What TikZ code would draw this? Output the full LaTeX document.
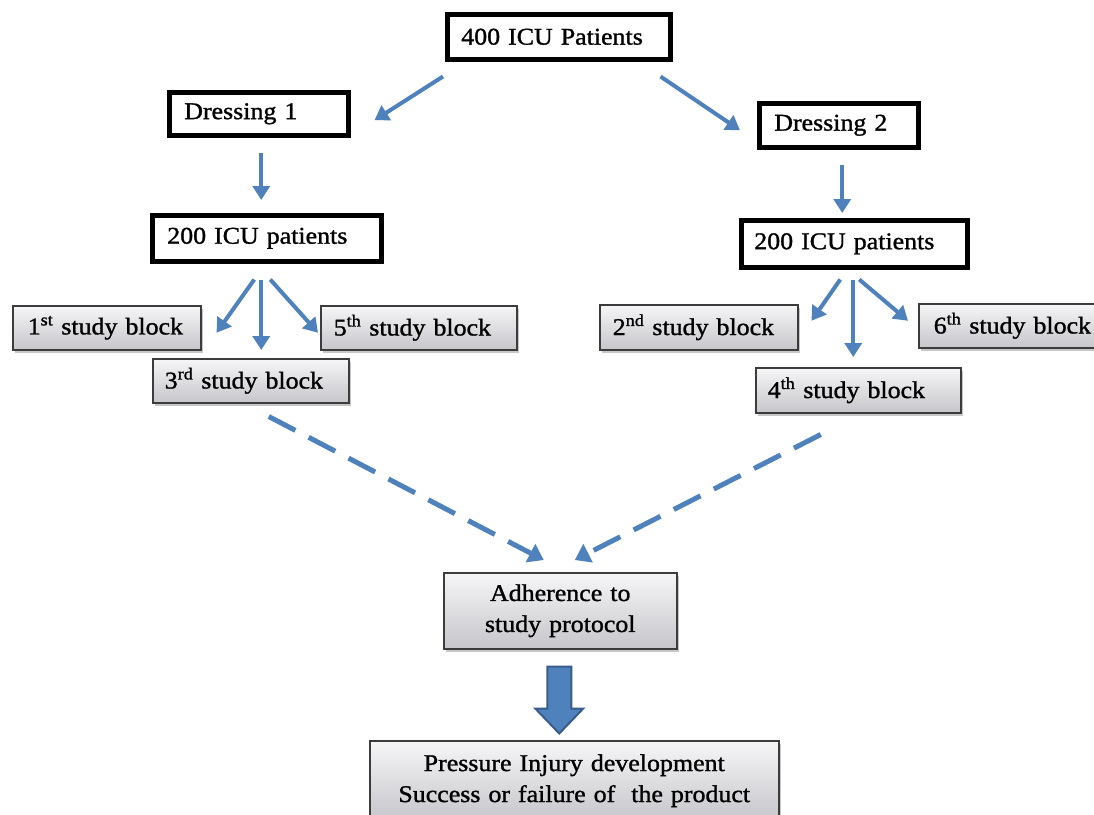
\documentclass[tikz,border=0pt]{standalone}
\usepackage{fontspec}
\setmainfont{Liberation Serif}[FakeStretch=1.08,FakeBold=1.2]
\usetikzlibrary{arrows.meta,shadows,calc}
\definecolor{arrblue}{RGB}{79,129,189}
\definecolor{arrdark}{RGB}{56,93,138}
\definecolor{gtop}{RGB}{246,246,247}
\definecolor{gbot}{RGB}{198,198,203}
\definecolor{gborder}{RGB}{60,60,60}
\tikzset{
  thickbox/.style={draw=black, line width=4.5pt, fill=white, anchor=north west, align=left, inner ysep=0pt},
  graybox/.style={draw=gborder, line width=1.5pt, top color=gtop, bottom color=gbot, anchor=north west, align=left, inner ysep=0pt,
    drop shadow={shadow xshift=2pt, shadow yshift=-3pt, opacity=0.22, fill=black}},
  conn/.style={draw=arrblue, line width=4pt, -{Triangle[width=17pt,length=14pt]}},
  dconn/.style={draw=arrblue, line width=5pt, dash pattern=on 30pt off 15pt, -{Triangle[width=20pt,length=15pt]}},
}
\begin{document}
\begin{tikzpicture}[x=1pt,y=-1pt, font=\fontsize{24}{31}\selectfont]
\useasboundingbox (0,0) rectangle (1094,814);
% thick boxes
\node[thickbox, text width={223-28}, inner xsep=14pt, minimum height=45pt] (top) at (445,12) {400 ICU Patients};
\node[thickbox, text width={179-30}, inner xsep=15pt, minimum height=43pt] (d1) at (167,90) {Dressing 1};
\node[thickbox, text width={159-30}, inner xsep=15pt, minimum height=44pt] (d2) at (757,101) {Dressing 2};
\node[thickbox, text width={229-30}, inner xsep=15pt, minimum height=46pt] (pl) at (150,213) {200 ICU patients};
\node[thickbox, text width={226-26}, inner xsep=13pt, minimum height=47pt] (pr) at (739,218) {200 ICU patients};
% gray boxes
\node[graybox, text width={188-30}, inner xsep=15pt, minimum height=44pt] (b1) at (12,305) {1\textsuperscript{st} study block};
\node[graybox, text width={196-26}, inner xsep=13pt, minimum height=44pt] (b5) at (320,305) {5\textsuperscript{th} study block};
\node[graybox, text width={196-24}, inner xsep=12pt, minimum height=44pt] (b3) at (152,358) {3\textsuperscript{rd} study block};
\node[graybox, text width={198-26}, inner xsep=13pt, minimum height=45pt] (b2) at (599,304) {2\textsuperscript{nd} study block};
\node[graybox, text width={190-30}, inner xsep=15pt, minimum height=44pt] (b6) at (918,303) {6\textsuperscript{th} study block};
\node[graybox, text width={205-24}, inner xsep=12pt, minimum height=45pt] (b4) at (755,367) {4\textsuperscript{th} study block};
\node[graybox, text width={233-20}, inner xsep=10pt, minimum height=76pt, align=center] (adh) at (443,572) {Adherence to\\study protocol};
\node[graybox, text width={409-20}, inner xsep=10pt, minimum height=80pt, align=center] (pres) at (369,740) {Pressure Injury development\\Success or failure of\ \ the product};
% connectors
\draw[conn] ([shift={(-2,15)}]top.south west) -- ([shift={(24,6.5)}]d1.east);
\draw[conn] ([shift={(-12,15)}]top.south east) -- ([shift={(-17,5)}]d2.west);
\draw[conn] ($(d1.south)+(2.5,15)$) -- ($(d1.south |- pl.north)+(2.5,-13)$);
\draw[conn] ($(d2.south)+(3.5,15)$) -- ($(d2.south |- pr.north)+(3.5,-5)$);
\draw[conn] ([shift={(-12.5,16)}]pl.south) -- ([shift={(15,5)}]b1.east);
\draw[conn] ($(pl.south)+(-5.5,16)$) -- ($(pl.south |- b3.north)+(-5.5,-8)$);
\draw[conn] ([shift={(3.5,16)}]pl.south) -- ([shift={(-2,5)}]b5.west);
\draw[conn] ([shift={(-14,10)}]pr.south) -- ([shift={(13,-6.5)}]b2.east);
\draw[conn] ($(pr.south)+(-1,10)$) -- ($(pr.south |- b4.north)+(-1,-10)$);
\draw[conn] ([shift={(5,10)}]pr.south) -- ([shift={(-10,-5)}]b6.west);
\draw[dconn] ([shift={(18,13)}]b3.south) -- ([shift={(-16.5,-12)}]adh.north);
\draw[dconn] ([shift={(-37.5,21)}]b4.south) -- ([shift={(14.5,-12)}]adh.north);
% block arrow
\draw[draw=arrdark, fill=arrblue, line width=2pt, line join=miter]
  ([shift={(-13,17)}]adh.south) -- ([shift={(11,17)}]adh.south) -- ([shift={(11,59)}]adh.south)
  -- ([shift={(23,59)}]adh.south) -- ([shift={(-1,84)}]adh.south) -- ([shift={(-25,59)}]adh.south)
  -- ([shift={(-13,59)}]adh.south) -- cycle;
\end{tikzpicture}
\end{document}
